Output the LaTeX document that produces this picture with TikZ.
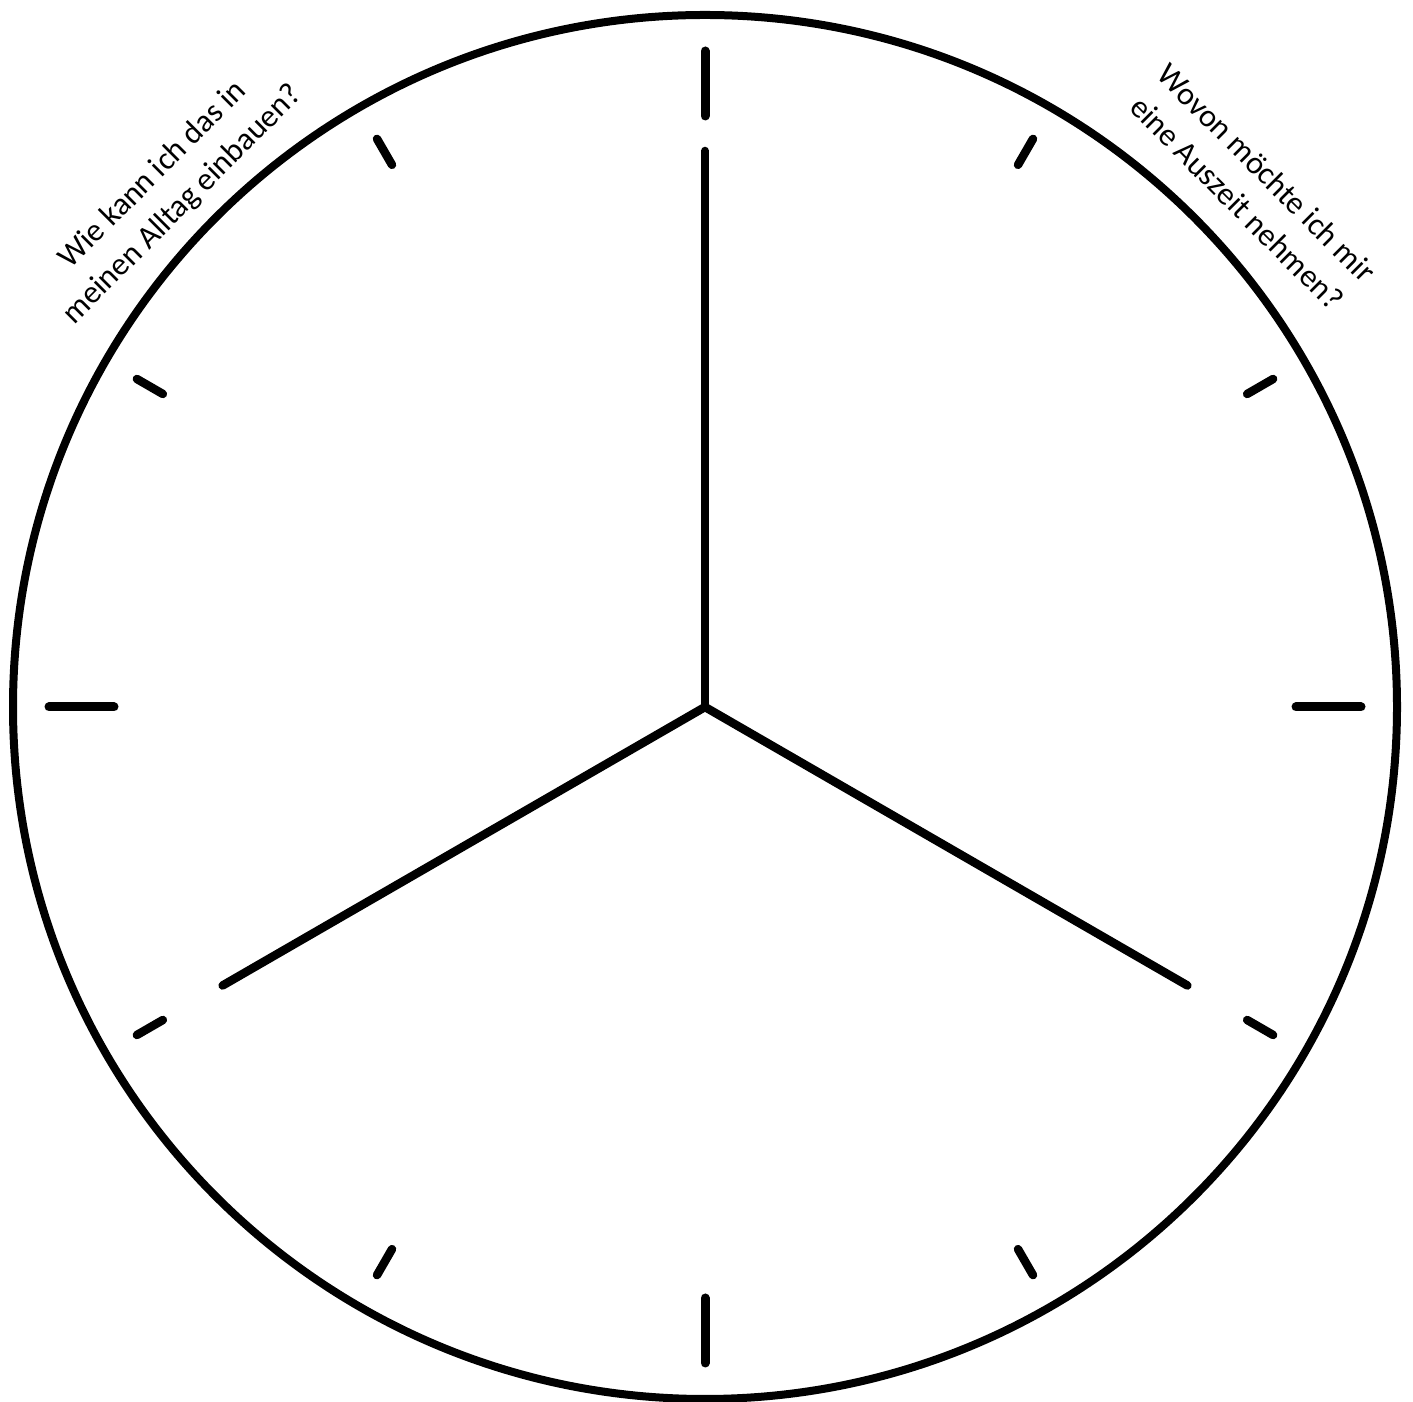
\documentclass[tikz,border=0pt]{standalone}
\usepackage{fontspec}
\setmainfont{Carlito}

\begin{document}
\begin{tikzpicture}[
x=1pt, y=1pt,
rim/.style={draw, line width=8pt},
hand/.style={line width=8.5pt},
bigtick/.style={line width=9pt, line cap=round},
smalltick/.style={line width=8.5pt, line cap=round},
question/.style={align=center, font=\fontsize{32}{42}\selectfont}
]
\fill[white] (0,0) rectangle (1413,1402);
\useasboundingbox (0,0) rectangle (1413,1402);
\coordinate (c) at (705,695);
\draw[rim] (c) circle[radius=692pt];
% hands
\draw[hand] (c) -- ([shift={(90:557)}]c);
\draw[hand, line cap=round] (c) -- ([shift={(-30:557)}]c);
\draw[hand, line cap=round] (c) -- ([shift={(210:557)}]c);
\draw[hand, line cap=round] ([shift={(90:553)}]c) -- ([shift={(90:556)}]c);
% ticks
\foreach \a in {0,90,180,270}
  \draw[bigtick] ([shift={(\a:591)}]c) -- ([shift={(\a:656)}]c);
\foreach \a in {30,60,120,150,210,240,300,330}
  \draw[smalltick] ([shift={(\a:626)}]c) -- ([shift={(\a:656)}]c);
% questions
\node[question, rotate=45] (alltag) at (168,1212) {Wie kann ich das in\\meinen Alltag einbauen?};
\node[question, rotate=-45] (auszeit) at (1252,1214) {Wovon möchte ich mir\\eine Auszeit nehmen?};
\end{tikzpicture}
\end{document}
